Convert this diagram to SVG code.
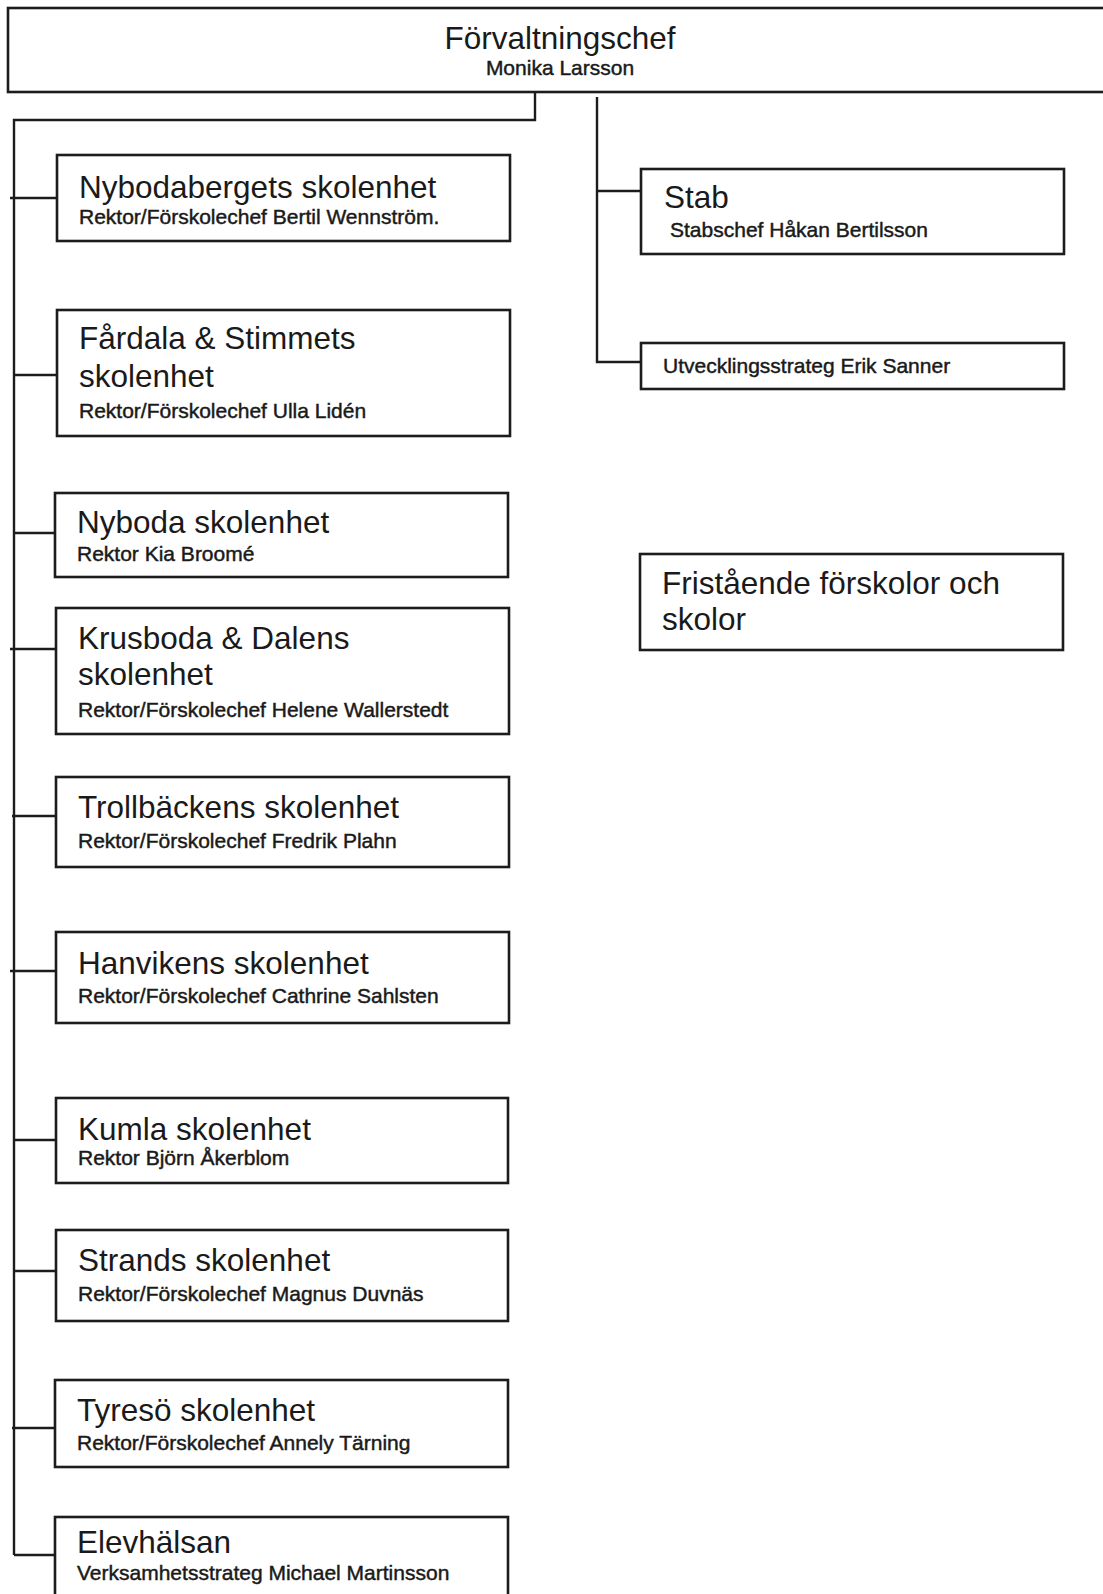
<svg xmlns="http://www.w3.org/2000/svg" width="1103" height="1594" viewBox="0 0 1103 1594">
<style>
.box{fill:#fff;stroke:#1c1c1c;stroke-width:2.6}
.ln{fill:none;stroke:#1c1c1c;stroke-width:2.4}
.t{font-family:"Liberation Sans",Arial,Helvetica,sans-serif;font-size:31.5px;fill:#1a1a1a}
.s{font-family:"Liberation Sans",Arial,Helvetica,sans-serif;font-size:21px;fill:#1a1a1a;stroke:#1a1a1a;stroke-width:0.45}
</style>
<rect width="1103" height="1594" fill="#fff"/>
<g id="connectors">
<polyline class="ln" points="535,92 535,120 14,120 14,1555"/>
<line class="ln" x1="10" y1="198" x2="57" y2="198"/>
<line class="ln" x1="14" y1="375" x2="57" y2="375"/>
<line class="ln" x1="14" y1="533" x2="55" y2="533"/>
<line class="ln" x1="10" y1="649" x2="56" y2="649"/>
<line class="ln" x1="12" y1="816" x2="56" y2="816"/>
<line class="ln" x1="10" y1="971" x2="56" y2="971"/>
<line class="ln" x1="14" y1="1140" x2="56" y2="1140"/>
<line class="ln" x1="14" y1="1271" x2="56" y2="1271"/>
<line class="ln" x1="12" y1="1428" x2="55" y2="1428"/>
<line class="ln" x1="14" y1="1555" x2="55" y2="1555"/>
<polyline class="ln" points="597,97 597,362 641,362"/>
<line class="ln" x1="597" y1="191" x2="641" y2="191"/>
</g>
<g id="forvaltningschef">
<rect class="box" x="8" y="8" width="1110" height="84"/>
<text class="t" x="560" y="49" text-anchor="middle">Förvaltningschef</text>
<text class="s" x="560" y="75" text-anchor="middle">Monika Larsson</text>
</g>
<g id="nybodabergets">
<rect class="box" x="57" y="155" width="453" height="86"/>
<text class="t" x="79" y="198">Nybodabergets skolenhet</text>
<text class="s" x="79" y="224">Rektor/Förskolechef Bertil Wennström.</text>
</g>
<g id="fardala">
<rect class="box" x="57" y="310" width="453" height="126"/>
<text class="t" x="79" y="349">Fårdala &amp; Stimmets</text>
<text class="t" x="79" y="387">skolenhet</text>
<text class="s" x="79" y="418">Rektor/Förskolechef Ulla Lidén</text>
</g>
<g id="nyboda">
<rect class="box" x="55" y="493" width="453" height="84"/>
<text class="t" x="77" y="533">Nyboda skolenhet</text>
<text class="s" x="77" y="561">Rektor Kia Broomé</text>
</g>
<g id="krusboda">
<rect class="box" x="56" y="608" width="453" height="126"/>
<text class="t" x="78" y="649">Krusboda &amp; Dalens</text>
<text class="t" x="78" y="685">skolenhet</text>
<text class="s" x="78" y="717">Rektor/Förskolechef Helene Wallerstedt</text>
</g>
<g id="trollbackens">
<rect class="box" x="56" y="777" width="453" height="90"/>
<text class="t" x="78" y="818">Trollbäckens skolenhet</text>
<text class="s" x="78" y="848">Rektor/Förskolechef Fredrik Plahn</text>
</g>
<g id="hanvikens">
<rect class="box" x="56" y="932" width="453" height="91"/>
<text class="t" x="78" y="974">Hanvikens skolenhet</text>
<text class="s" x="78" y="1003">Rektor/Förskolechef Cathrine Sahlsten</text>
</g>
<g id="kumla">
<rect class="box" x="56" y="1098" width="452" height="85"/>
<text class="t" x="78" y="1140">Kumla skolenhet</text>
<text class="s" x="78" y="1165">Rektor Björn Åkerblom</text>
</g>
<g id="strands">
<rect class="box" x="56" y="1230" width="452" height="91"/>
<text class="t" x="78" y="1271">Strands skolenhet</text>
<text class="s" x="78" y="1301">Rektor/Förskolechef Magnus Duvnäs</text>
</g>
<g id="tyreso">
<rect class="box" x="55" y="1380" width="453" height="87"/>
<text class="t" x="77" y="1421">Tyresö skolenhet</text>
<text class="s" x="77" y="1450">Rektor/Förskolechef Annely Tärning</text>
</g>
<g id="elevhalsan">
<rect class="box" x="55" y="1517" width="453" height="90"/>
<text class="t" x="77" y="1553">Elevhälsan</text>
<text class="s" x="77" y="1580">Verksamhetsstrateg Michael Martinsson</text>
</g>
<g id="stab">
<rect class="box" x="641" y="169" width="423" height="85"/>
<text class="t" x="664" y="208">Stab</text>
<text class="s" x="670" y="237">Stabschef Håkan Bertilsson</text>
</g>
<g id="utvecklingsstrateg">
<rect class="box" x="641" y="343" width="423" height="46"/>
<text class="s" x="663" y="373">Utvecklingsstrateg Erik Sanner</text>
</g>
<g id="fristaende">
<rect class="box" x="640" y="554" width="423" height="96"/>
<text class="t" x="662" y="594">Fristående förskolor och</text>
<text class="t" x="662" y="630">skolor</text>
</g>
</svg>
